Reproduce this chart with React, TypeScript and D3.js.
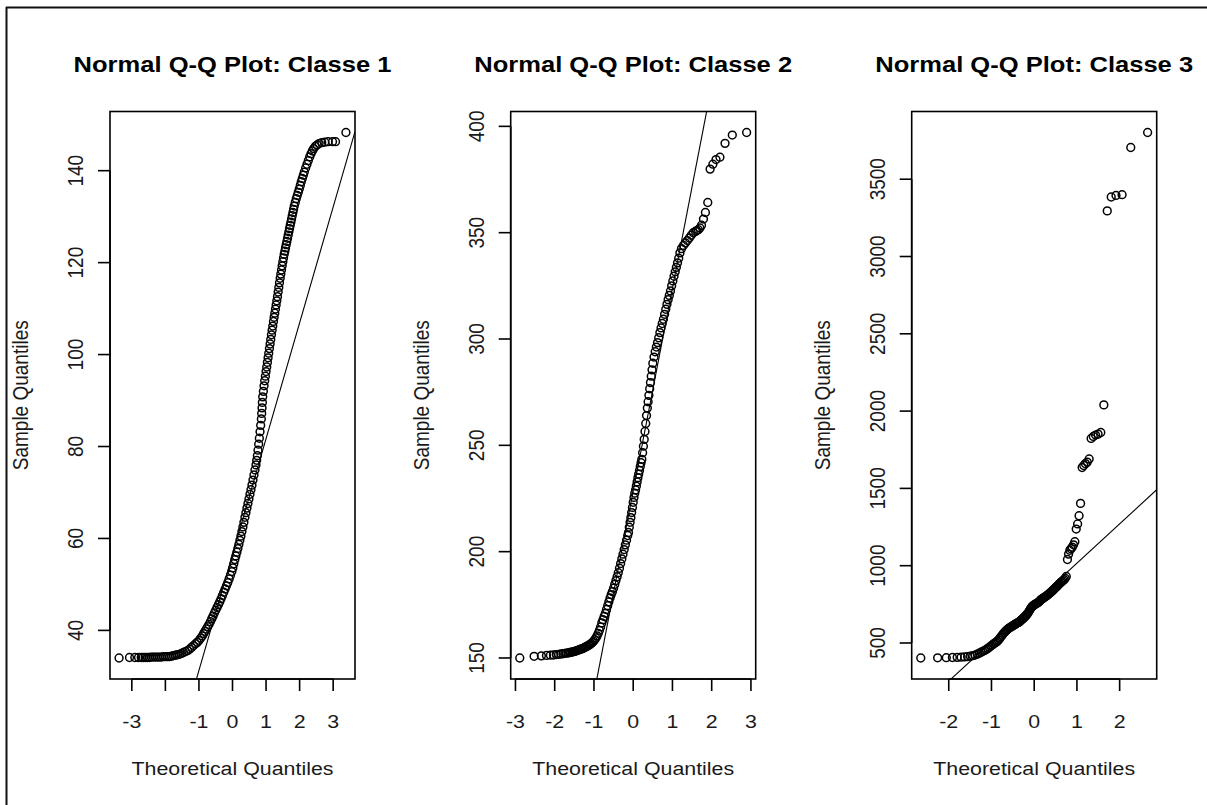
import React from 'react';
import * as d3 from 'd3';

// ---------- data ----------
const TITLES = ['Normal Q-Q Plot: Classe 1', 'Normal Q-Q Plot: Classe 2', 'Normal Q-Q Plot: Classe 3'];
const X_AXIS_TITLE = 'Theoretical Quantiles';
const Y_AXIS_TITLE = 'Sample Quantiles';

// Classe 1: [theoretical quantile, sample quantile]
const classe1Points: [number, number][] = [
  [-3.38, 34], [-3.07, 34.1], [-2.91, 34.1], [-2.8, 34.1], [-2.72, 34.1], [-2.66, 34.1], [-2.6, 34.1], [-2.54, 34.1],
  [-2.48, 34.1], [-2.42, 34.2], [-2.36, 34.2], [-2.3, 34.2], [-2.24, 34.2], [-2.18, 34.2], [-2.12, 34.2], [-2.06, 34.3],
  [-2.0, 34.3], [-1.94, 34.3], [-1.88, 34.3], [-1.82, 34.4], [-1.76, 34.5], [-1.7, 34.6], [-1.64, 34.7], [-1.58, 34.8],
  [-1.52, 35], [-1.46, 35.2], [-1.4, 35.4], [-1.34, 35.6], [-1.28, 35.9], [-1.22, 36.3], [-1.16, 36.7], [-1.1, 37.1],
  [-1.05, 37.4], [-1.0, 37.8], [-0.95, 38.3], [-0.9, 38.8], [-0.86, 39.3], [-0.82, 39.8], [-0.78, 40.3], [-0.74, 40.8],
  [-0.7, 41.3], [-0.66, 41.9], [-0.62, 42.5], [-0.58, 43.1], [-0.54, 43.8], [-0.5, 44.4], [-0.46, 45], [-0.42, 45.6],
  [-0.38, 46.2], [-0.34, 46.9], [-0.3, 47.6], [-0.26, 48.3], [-0.22, 49], [-0.18, 49.7], [-0.14, 50.4], [-0.1, 51.2],
  [-0.06, 52], [-0.02, 52.8], [0.01, 53.6], [0.04, 54.5], [0.07, 55.4], [0.1, 56.2], [0.13, 57], [0.16, 57.8],
  [0.19, 58.7], [0.22, 59.6], [0.25, 60.5], [0.28, 61.5], [0.31, 62.5], [0.34, 63.5], [0.37, 64.6], [0.4, 65.6],
  [0.43, 66.6], [0.46, 67.6], [0.49, 68.6], [0.52, 69.6], [0.55, 70.6], [0.58, 71.6], [0.61, 72.7], [0.64, 73.8],
  [0.67, 74.9], [0.7, 76], [0.72, 77], [0.74, 78], [0.76, 79.2], [0.78, 80.5], [0.8, 81.8], [0.82, 83.2],
  [0.84, 84.6], [0.86, 86], [0.87, 87.2], [0.88, 88.4], [0.89, 89.6], [0.9, 90.8], [0.92, 92], [0.94, 93.2],
  [0.96, 94.3], [0.98, 95.3], [1.0, 96.3], [1.02, 97.3], [1.04, 98.3], [1.06, 99.3], [1.08, 100.3], [1.1, 101.3],
  [1.12, 102.3], [1.14, 103.3], [1.16, 104.3], [1.18, 105.3], [1.2, 106.2], [1.22, 107.2], [1.24, 108.1], [1.26, 109],
  [1.28, 109.9], [1.3, 110.8], [1.32, 111.7], [1.34, 112.6], [1.36, 113.6], [1.38, 114.6], [1.4, 115.6], [1.42, 116.6],
  [1.44, 117.5], [1.46, 118.4], [1.48, 119.3], [1.5, 120.2], [1.52, 121], [1.54, 121.8], [1.56, 122.5], [1.58, 123.2],
  [1.6, 123.9], [1.62, 124.6], [1.64, 125.3], [1.66, 126], [1.68, 126.7], [1.7, 127.4], [1.72, 128.1], [1.74, 128.8],
  [1.76, 129.5], [1.78, 130.2], [1.8, 130.9], [1.82, 131.6], [1.84, 132.3], [1.87, 133.1], [1.9, 133.9], [1.93, 134.6],
  [1.96, 135.3], [1.99, 136], [2.02, 136.8], [2.05, 137.6], [2.08, 138.3], [2.11, 139], [2.14, 139.7], [2.18, 140.6],
  [2.22, 141.4], [2.26, 142.2], [2.3, 143], [2.34, 143.7], [2.38, 144.3], [2.42, 144.8], [2.47, 145.3], [2.52, 145.6],
  [2.58, 145.9], [2.66, 146.1], [2.75, 146.2], [2.85, 146.3], [2.98, 146.3], [3.07, 146.3], [3.38, 148.3],
];

// Classe 2: [theoretical quantile, sample quantile]
const classe2Points: [number, number][] = [
  [-2.89, 150], [-2.525, 150.8], [-2.34, 151], [-2.21, 151.2], [-2.11, 151.3], [-2.03, 151.4], [-1.96, 151.6], [-1.9, 151.7],
  [-1.84, 151.9], [-1.79, 152], [-1.74, 152.2], [-1.7, 152.3], [-1.66, 152.4], [-1.62, 152.5], [-1.59, 152.7], [-1.55, 152.8],
  [-1.52, 153], [-1.49, 153.1], [-1.46, 153.3], [-1.43, 153.5], [-1.4, 153.7], [-1.37, 153.9], [-1.34, 154.1], [-1.31, 154.3],
  [-1.28, 154.5], [-1.25, 154.8], [-1.22, 155.1], [-1.19, 155.4], [-1.16, 155.7], [-1.13, 156], [-1.1, 156.4], [-1.07, 156.8],
  [-1.04, 157.3], [-1.01, 157.9], [-0.98, 158.6], [-0.95, 159.4], [-0.92, 160.4], [-0.89, 161.6], [-0.86, 163], [-0.83, 164.6],
  [-0.8, 166.5], [-0.77, 168], [-0.74, 169.5], [-0.71, 171], [-0.68, 172.8], [-0.65, 174.6], [-0.62, 176.4], [-0.59, 178.2],
  [-0.56, 179.8], [-0.53, 181.2], [-0.5, 182.8], [-0.47, 184.6], [-0.44, 186.4], [-0.41, 188.2], [-0.38, 190.1], [-0.35, 192.2],
  [-0.32, 194.4], [-0.29, 196.6], [-0.26, 198.8], [-0.23, 201], [-0.2, 203.2], [-0.17, 205.4], [-0.14, 207.6], [-0.12, 209],
  [-0.1, 211.5], [-0.08, 213.8], [-0.06, 216], [-0.04, 218.4], [-0.02, 220.8], [0.0, 223.2], [0.02, 225.5], [0.04, 227.5],
  [0.06, 229], [0.08, 230.8], [0.1, 232.8], [0.12, 234.8], [0.14, 236.5], [0.16, 238.2], [0.18, 240], [0.2, 241.8],
  [0.22, 243.4], [0.24, 246.5], [0.26, 249.6], [0.28, 252.8], [0.3, 256.5], [0.32, 260.3], [0.34, 264], [0.36, 267.5],
  [0.38, 270.5], [0.4, 273.5], [0.42, 276.6], [0.44, 279.5], [0.46, 282.5], [0.48, 285.5], [0.5, 288.6], [0.53, 291.5],
  [0.56, 294], [0.59, 296.2], [0.62, 298.3], [0.65, 300.6], [0.68, 303], [0.71, 305.2], [0.74, 307.3], [0.77, 309.3],
  [0.8, 311.6], [0.83, 314], [0.86, 316.3], [0.89, 318.5], [0.92, 320.5], [0.95, 322.6], [0.98, 325], [1.01, 327.3],
  [1.04, 329.5], [1.07, 331.6], [1.1, 333.7], [1.13, 335.8], [1.16, 338], [1.19, 340.5], [1.23, 342.5], [1.28, 344],
  [1.33, 345.2], [1.38, 346.3], [1.43, 347.5], [1.48, 348.8], [1.53, 350], [1.59, 350.6], [1.62, 351], [1.66, 351.4],
  [1.7, 352.2], [1.74, 353.5], [1.79, 356.4], [1.84, 359.5], [1.9, 364.2], [1.96, 379.9], [2.03, 382.2], [2.11, 384.4],
  [2.21, 385.5], [2.34, 392], [2.525, 395.9], [2.89, 397.1],
];

// Classe 3: sorted sample values (n = 126), theoretical quantiles from ppoints
const classe3Sorted: number[] = [
  403, 404, 405, 406, 407, 408, 410, 412, 415, 418,
  422, 428, 434, 440, 446, 452, 458, 465, 472, 480,
  487, 494, 500, 505, 512, 520, 530, 540, 550, 560,
  568, 575, 582, 588, 594, 598, 602, 606, 610, 614,
  618, 622, 626, 629, 632, 635, 640, 645, 650, 655,
  660, 666, 672, 678, 685, 692, 700, 710, 720, 728,
  735, 740, 745, 748, 752, 755, 758, 762, 766, 772,
  778, 782, 786, 790, 794, 798, 802, 806, 810, 815,
  820, 826, 830, 836, 842, 848, 854, 860, 866, 872,
  880, 886, 892, 898, 904, 910, 918, 930, 1040, 1075,
  1100, 1110, 1120, 1135, 1155, 1237, 1270, 1323, 1403, 1635,
  1648, 1660, 1670, 1690, 1823, 1836, 1845, 1851, 1862, 2040,
  3295, 3385, 3395, 3400, 3705, 3802,
];

// qqline (intercept, slope) per panel
const qqLineIntercepts = [56.5, 228.5, 762];
const qqLineSlopes = [25.2, 95.4, 254.3];

const xTicks1 = [-3, -2, -1, 0, 1, 2, 3];
const xTickLabels1 = ['-3', '', '-1', '0', '1', '2', '3'];
const xTicks2 = [-3, -2, -1, 0, 1, 2, 3];
const xTickLabels2 = ['-3', '-2', '-1', '0', '1', '2', '3'];
const xTicks3 = [-2, -1, 0, 1, 2];
const xTickLabels3 = ['-2', '-1', '0', '1', '2'];

const yTicks1 = [40, 60, 80, 100, 120, 140];
const yTicks2 = [150, 200, 250, 300, 350, 400];
const yTicks3 = [500, 1000, 1500, 2000, 2500, 3000, 3500];

// ---------- helpers ----------
function qnorm(p: number): number {
  const a = [-3.969683028665376e1, 2.209460984245205e2, -2.759285104469687e2, 1.38357751867269e2, -3.066479806614716e1, 2.506628277459239];
  const b = [-5.447609879822406e1, 1.615858368580409e2, -1.556989798598866e2, 6.680131188771972e1, -1.328068155288572e1];
  const c = [-7.784894002430293e-3, -3.223964580411365e-1, -2.400758277161838, -2.549732539343734, 4.374664141464968, 2.938163982698783];
  const d = [7.784695709041462e-3, 3.224671290700398e-1, 2.445134137142996, 3.754408661907416];
  const pl = 0.02425;
  if (p < pl) {
    const q = Math.sqrt(-2 * Math.log(p));
    return (((((c[0] * q + c[1]) * q + c[2]) * q + c[3]) * q + c[4]) * q + c[5]) / ((((d[0] * q + d[1]) * q + d[2]) * q + d[3]) * q + 1);
  }
  if (p <= 1 - pl) {
    const q = p - 0.5;
    const r = q * q;
    return ((((((a[0] * r + a[1]) * r + a[2]) * r + a[3]) * r + a[4]) * r + a[5]) * q) / (((((b[0] * r + b[1]) * r + b[2]) * r + b[3]) * r + b[4]) * r + 1);
  }
  const q = Math.sqrt(-2 * Math.log(1 - p));
  return -(((((c[0] * q + c[1]) * q + c[2]) * q + c[3]) * q + c[4]) * q + c[5]) / ((((d[0] * q + d[1]) * q + d[2]) * q + d[3]) * q + 1);
}

function qqPairs(sorted: number[]): [number, number][] {
  const n = sorted.length;
  const a = n <= 10 ? 3 / 8 : 0.5;
  return sorted.map((v, i) => [qnorm((i + 1 - a) / (n + 1 - 2 * a)), v]);
}

const panelPoints: [number, number][][] = [classe1Points, classe2Points, qqPairs(classe3Sorted)];
const panelXTicks = [xTicks1, xTicks2, xTicks3];
const panelXLabels = [xTickLabels1, xTickLabels2, xTickLabels3];
const panelYTicks = [yTicks1, yTicks2, yTicks3];

// ---------- layout ----------
const W = 1207;
const H = 805;
const PANEL_LEFT = [110, 510.7, 911.7];
const PANEL_W = 245;
const PANEL_TOP = 111.5;
const PANEL_BOTTOM = 679;
const SX = 1.125; // horizontal stretch of the original raster text
const FONT = 'Arial, "Liberation Sans", Helvetica, sans-serif';
const TEXT_COLOR = '#1a1a1a';

function Panel({ idx }: { idx: number }) {
  const pts = panelPoints[idx];
  const left = PANEL_LEFT[idx];
  const right = left + PANEL_W;
  const [x0, x1] = d3.extent(pts, (d) => d[0]) as [number, number];
  const [y0, y1] = d3.extent(pts, (d) => d[1]) as [number, number];
  const xp = (x1 - x0) * 0.04;
  const yp = (y1 - y0) * 0.04;
  const x = d3.scaleLinear().domain([x0 - xp, x1 + xp]).range([left, right]);
  const y = d3.scaleLinear().domain([y0 - yp, y1 + yp]).range([PANEL_BOTTOM, PANEL_TOP]);
  const [dx0, dx1] = x.domain();
  const a = qqLineIntercepts[idx];
  const b = qqLineSlopes[idx];
  const xt = panelXTicks[idx];
  const xl = panelXLabels[idx];
  const yt = panelYTicks[idx];
  const cx = (left + right) / 2;
  const cy = (PANEL_TOP + PANEL_BOTTOM) / 2;
  const clipId = `clip-${idx}`;
  const lineGen = d3.line<[number, number]>().x((d) => x(d[0])).y((d) => y(d[1]));

  return (
    <g>
      <defs>
        <clipPath id={clipId}>
          <rect x={left} y={PANEL_TOP} width={PANEL_W} height={PANEL_BOTTOM - PANEL_TOP} />
        </clipPath>
      </defs>
      {/* title */}
      <text
        transform={`translate(${cx},72) scale(${SX},1)`}
        textAnchor="middle"
        fontFamily={FONT}
        fontWeight="bold"
        fontSize={22.7}
        fill="#000"
      >
        {TITLES[idx]}
      </text>
      {/* points */}
      <g clipPath={`url(#${clipId})`}>
        {pts.map((d, i) => (
          <circle key={i} cx={x(d[0])} cy={y(d[1])} r={3.9} fill="none" stroke="#000" strokeWidth={1.5} />
        ))}
        <path
          d={lineGen([[dx0, a + b * dx0], [dx1, a + b * dx1]]) || ''}
          stroke="#000"
          strokeWidth={1.1}
          fill="none"
        />
      </g>
      {/* box */}
      <rect x={left} y={PANEL_TOP} width={PANEL_W} height={PANEL_BOTTOM - PANEL_TOP} fill="none" stroke="#000" strokeWidth={1.6} />
      {/* x axis */}
      <line x1={x(xt[0])} x2={x(xt[xt.length - 1])} y1={PANEL_BOTTOM} y2={PANEL_BOTTOM} stroke="#000" strokeWidth={1.6} />
      {xt.map((t, i) => (
        <g key={`xt${i}`}>
          <line x1={x(t)} x2={x(t)} y1={PANEL_BOTTOM} y2={PANEL_BOTTOM + 12} stroke="#000" strokeWidth={1.6} />
          {xl[i] !== '' && (
            <text
              transform={`translate(${x(t)},728) scale(${SX},1)`}
              textAnchor="middle"
              fontFamily={FONT}
              fontSize={19}
              fill={TEXT_COLOR}
            >
              {xl[i]}
            </text>
          )}
        </g>
      ))}
      {/* y axis */}
      <line x1={left} x2={left} y1={y(yt[0])} y2={y(yt[yt.length - 1])} stroke="#000" strokeWidth={1.6} />
      {yt.map((t, i) => (
        <g key={`yt${i}`}>
          <line x1={left - 12} x2={left} y1={y(t)} y2={y(t)} stroke="#000" strokeWidth={1.6} />
          <text
            transform={`translate(${left - 27},${y(t)}) scale(${SX},1) rotate(-90)`}
            textAnchor="middle"
            fontFamily={FONT}
            fontSize={19}
            fill={TEXT_COLOR}
          >
            {String(t)}
          </text>
        </g>
      ))}
      {/* axis titles */}
      <text
        transform={`translate(${cx},775) scale(${SX},1)`}
        textAnchor="middle"
        fontFamily={FONT}
        fontSize={19}
        fill={TEXT_COLOR}
      >
        {X_AXIS_TITLE}
      </text>
      <text
        transform={`translate(${left - 82},${cy}) scale(${SX},1) rotate(-90)`}
        textAnchor="middle"
        fontFamily={FONT}
        fontSize={19}
        fill={TEXT_COLOR}
      >
        {Y_AXIS_TITLE}
      </text>
    </g>
  );
}

export default function App() {
  return (
    <svg
      width={W}
      height={H}
      viewBox={`0 0 ${W} ${H}`}
      style={{ position: 'fixed', left: 0, top: 0, background: '#fff' }}
    >
      <rect x={0} y={0} width={W} height={H} fill="#fff" />
      {/* outer frame (clipped by image edges on right/bottom) */}
      <line x1={6.5} y1={7} x2={6.5} y2={H} stroke="#111" strokeWidth={2} />
      <line x1={6} y1={7.5} x2={W} y2={7.5} stroke="#111" strokeWidth={2} />
      {[0, 1, 2].map((i) => (
        <Panel key={i} idx={i} />
      ))}
    </svg>
  );
}
